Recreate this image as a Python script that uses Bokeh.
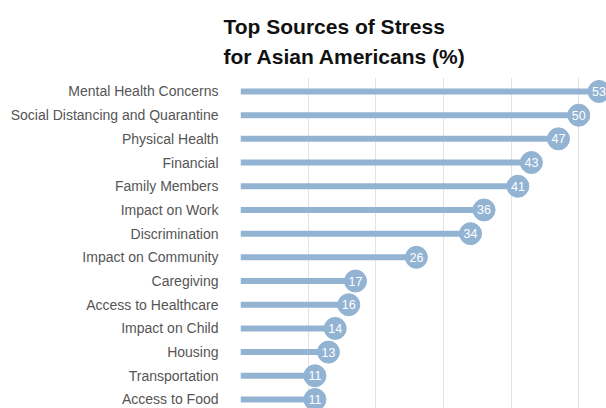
from bokeh.plotting import figure
from bokeh.models import Range1d, SingleIntervalTicker, Title, ColumnDataSource, FixedTicker
from bokeh.embed import file_html
from bokeh.resources import INLINE
from bokeh.core.properties import value

categories = ["Mental Health Concerns", "Social Distancing and Quarantine", "Physical Health",
              "Financial", "Family Members", "Impact on Work", "Discrimination",
              "Impact on Community", "Caregiving", "Access to Healthcare", "Impact on Child",
              "Housing", "Transportation", "Access to Food"]
values = [53, 50, 47, 43, 41, 36, 34, 26, 17, 16, 14, 13, 11, 11]
title_lines = ["Top Sources of Stress", "for Asian Americans (%)"]

FONT = "Liberation Sans"
COLOR = "#93b3d3"

ypos = list(range(len(categories)))
src = ColumnDataSource(dict(y=ypos, v=values, zero=[0] * len(values),
                            lab=[str(v) for v in values]))

p = figure(width=606, height=408, output_backend="svg", toolbar_location=None,
           x_range=Range1d(0, 54.1), y_range=Range1d(13.38, -0.59),
           min_border_left=240, min_border_right=0, min_border_top=77, min_border_bottom=0)

p.segment(x0="zero", y0="y", x1="v", y1="y", source=src, line_color=COLOR, line_width=6)
p.scatter(x="v", y="y", source=src, size=22, fill_color=COLOR, line_color=COLOR)
p.text(x="v", y="y", text="lab", source=src, text_color="white", text_align="center",
       text_baseline="middle", text_font=value(FONT), text_font_size="12.5px")

p.xaxis.visible = False
p.xgrid.ticker = SingleIntervalTicker(interval=10)
p.xgrid.grid_line_color = "#e3e3e3"
p.ygrid.grid_line_color = None
p.outline_line_color = None

p.yaxis.ticker = FixedTicker(ticks=ypos)
p.yaxis.major_label_overrides = {i: c for i, c in enumerate(categories)}
p.yaxis.axis_line_color = None
p.yaxis.major_tick_line_color = None
p.yaxis.minor_tick_line_color = None
p.yaxis.major_label_standoff = 16
p.yaxis.major_label_text_font = FONT
p.yaxis.major_label_text_font_size = "14px"
p.yaxis.major_label_text_color = "#555555"

p.add_layout(Title(text="\n".join(title_lines), align="left", offset=-17, standoff=15,
                   vertical_align="top",
                   text_font=FONT, text_font_size="21px", text_font_style="bold",
                   text_color="#111111", text_line_height=1.3), "above")

open("out.html", "w").write(file_html(p, INLINE))
